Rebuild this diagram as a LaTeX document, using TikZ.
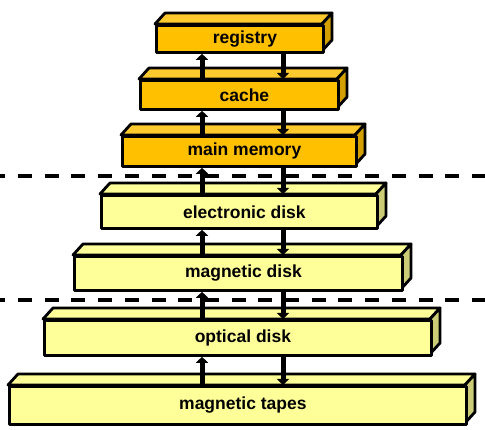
\documentclass[tikz,border=0pt]{standalone}
\usepackage{fontspec}
\setmainfont{Liberation Sans}
\usetikzlibrary{arrows.meta,calc}
\definecolor{ofront}{HTML}{FFC000}
\definecolor{otop}{HTML}{FFCA2E}
\definecolor{oside}{HTML}{D4A000}
\definecolor{yfront}{HTML}{FFFF99}
\definecolor{ytop}{HTML}{FFFF99}
\definecolor{yside}{HTML}{CCCC77}
\tikzset{
  face/.style={draw=black, line width=2.8pt, line join=round},
  conn/.style={line width=5pt, -{Triangle[width=12pt,length=6pt]}},
  sep/.style={line width=3.5pt, dash pattern=on 14pt off 12.7pt, dash phase=8.7pt},
  lbl/.style={font=\bfseries\fontsize{17.5}{20}\selectfont, inner sep=0pt}
}
% name, left, right, top, bottom, front, top, side, text
\newcommand\tierbox[9]{%
  \path[face, fill=#7] (#2,#4) -- (#2+10,#4-11) -- (#3+10,#4-11) -- (#3,#4) -- cycle;
  \path[face, fill=#8] (#3,#4) -- (#3+10,#4-11) -- (#3+10,#5-11) -- (#3,#5) -- cycle;
  \node[face, fill=#6, anchor=north west, inner sep=0pt,
        minimum width={(#3-#2)*1pt}, minimum height={(#5-#4)*1pt},
        label={[lbl,xshift=5pt]center:#9}] (#1) at (#2,#4) {};
}
\begin{document}
\begin{tikzpicture}[x=1pt,y=-1pt]
  \useasboundingbox (0,0) rectangle (485,430);
  \coordinate (ux) at (202,0);
  \coordinate (dx) at (283,0);
  \coordinate (s1a) at (0,176);
  \coordinate (s1b) at (485,176);
  \coordinate (s2a) at (0,300);
  \coordinate (s2b) at (485,300);
  \tierbox{reg}{155}{322}{24}{51}{ofront}{otop}{oside}{registry}
  \tierbox{cache}{139}{337}{79}{108}{ofront}{otop}{oside}{cache}
  \tierbox{mem}{121}{355}{135}{165}{ofront}{otop}{oside}{main memory}
  \tierbox{edisk}{100}{376}{194}{227}{yfront}{ytop}{yside}{electronic disk}
  \tierbox{mdisk}{73}{401}{255}{289}{yfront}{ytop}{yside}{magnetic disk}
  \tierbox{odisk}{43}{430}{319}{354}{yfront}{ytop}{yside}{optical disk}
  \tierbox{tapes}{8}{465}{385}{423}{yfront}{ytop}{yside}{magnetic tapes}
  \draw[sep] (s1a) -- (s1b);
  \draw[sep] (s2a) -- (s2b);
  \foreach \up/\lo in {reg/cache, cache/mem, mem/edisk, edisk/mdisk, mdisk/odisk, odisk/tapes} {
    \draw[conn] (\lo.north -| ux) -- (\up.south -| ux);
    \draw[conn] (\up.south -| dx) -- (\lo.north -| dx);
  }
\end{tikzpicture}
\end{document}
